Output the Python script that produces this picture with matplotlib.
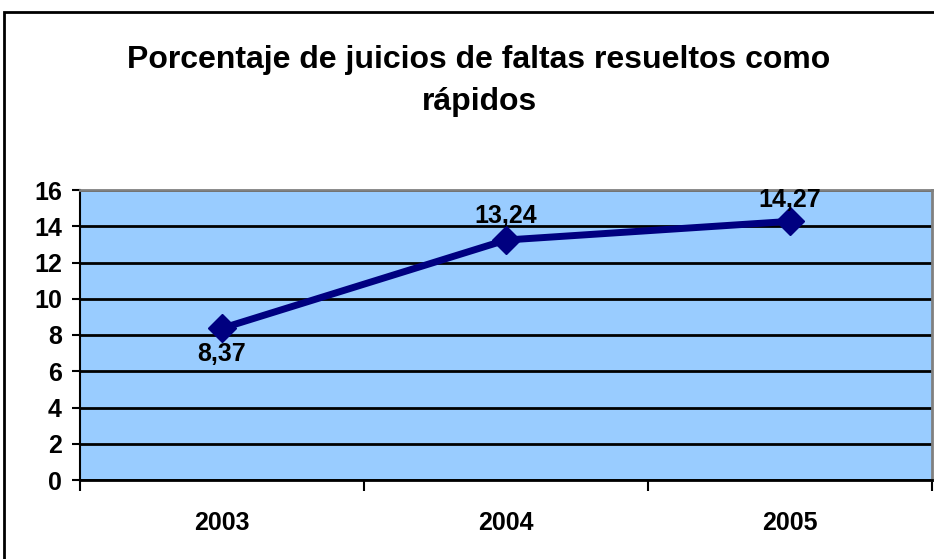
import matplotlib
matplotlib.use("Agg")
import matplotlib.pyplot as plt
from matplotlib.patches import Rectangle

# Datos del gráfico
anios = ["2003", "2004", "2005"]
porcentajes = [8.37, 13.24, 14.27]
etiquetas = ["8,37", "13,24", "14,27"]
yticks = [0, 2, 4, 6, 8, 10, 12, 14, 16]

plt.rcParams['font.family'] = ['Liberation Sans', 'DejaVu Sans']
plt.rcParams['font.weight'] = 'bold'

fig = plt.figure(figsize=(9.34, 5.59), dpi=100)
W, H = 934, 559

# Marco exterior (sólo se ven el borde izquierdo y el superior)
fig.patches.append(Rectangle((4 / W, -0.1), 1.2, (559 - 12) / H + 0.1,
                             transform=fig.transFigure, fill=False,
                             edgecolor='black', linewidth=2))

ax = fig.add_axes([80 / W, (559 - 480) / H, (932 - 80) / W, (480 - 190) / H])
ax.set_facecolor('#99CCFF')

x = range(len(anios))
ax.plot(x, porcentajes, color='#000080', linewidth=5, marker='D',
        markersize=14, zorder=3, clip_on=False)

# Etiquetas de datos
ax.annotate(etiquetas[0], (0, porcentajes[0]), xytext=(0, -10), textcoords='offset points',
            ha='center', va='top', fontsize=18, fontweight='bold')
for i in [1, 2]:
    ax.annotate(etiquetas[i], (i, porcentajes[i]), xytext=(0, 9 if i == 1 else 7),
                textcoords='offset points', ha='center', va='bottom',
                fontsize=18, fontweight='bold', zorder=4)

ax.set_xlim(-0.5, 2.5)
ax.set_ylim(0, 16)
ax.set_yticks(yticks)
ax.set_yticklabels([str(v) for v in yticks], fontsize=18, fontweight='bold')
ax.yaxis.grid(True, color='black', linewidth=2)
ax.set_axisbelow(True)

ax.set_xticks([-0.5, 0.5, 1.5, 2.5])
ax.set_xticklabels([])
ax.set_xticks(list(x), minor=True)
ax.set_xticklabels(anios, minor=True, fontsize=18, fontweight='bold')
ax.tick_params(axis='x', which='major', length=8, width=1.5, direction='out')
ax.tick_params(axis='x', which='minor', length=0, pad=22)
ax.tick_params(axis='y', length=6, width=1.5, direction='out', pad=7)

ax.spines['left'].set_color('black')
ax.spines['left'].set_linewidth(1.5)
ax.spines['bottom'].set_color('black')
ax.spines['bottom'].set_linewidth(2)
ax.spines['top'].set_color('#808080')
ax.spines['top'].set_linewidth(2)
ax.spines['right'].set_color('#808080')
ax.spines['right'].set_linewidth(2)

fig.text(479 / W, 1 - 81 / H, "Porcentaje de juicios de faltas resueltos como\nrápidos",
         ha='center', va='center', fontsize=23, fontweight='bold', linespacing=1.5)

fig.savefig("out.png", dpi=100)
